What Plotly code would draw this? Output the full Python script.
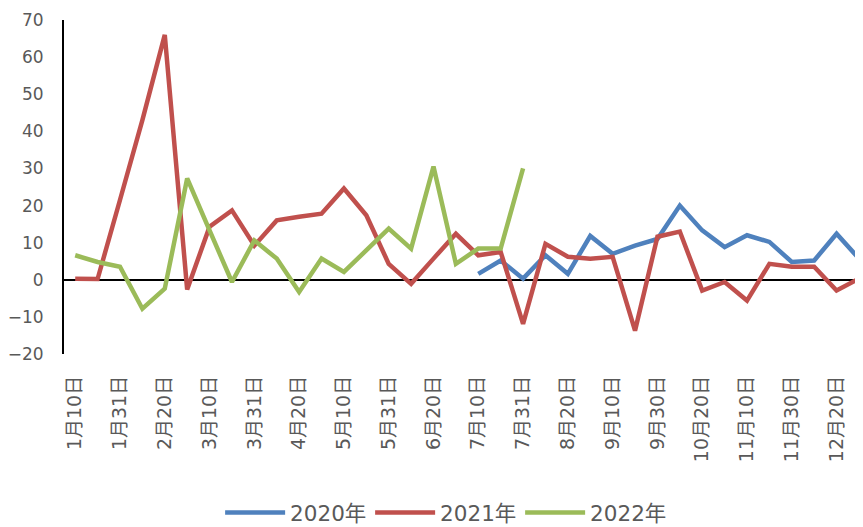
import plotly.graph_objects as go

categories = ["1月10日","1月20日","1月31日","2月10日","2月20日","2月28日","3月10日","3月20日","3月31日",
              "4月10日","4月20日","4月30日","5月10日","5月20日","5月31日","6月10日","6月20日","6月30日",
              "7月10日","7月20日","7月31日","8月10日","8月20日","8月31日","9月10日","9月20日","9月30日",
              "10月10日","10月20日","10月31日","11月10日","11月20日","11月30日","12月10日","12月20日","12月31日"]

y2020 = [None]*18 + [1.6, 5.2, 0.3, 6.6, 1.6, 11.8, 7.0, 9.2, 11.0, 20.0, 13.3, 8.8, 12.0, 10.2, 4.8, 5.2, 12.4, 5.7]
y2021 = [0.3, 0.2, 21.5, 43.0, 66.0, -2.6, 14.3, 18.7, 9.2, 16.0, 17.0, 17.8, 24.6, 17.4, 4.3, -1.1, 5.7, 12.4,
         6.6, 7.5, -11.9, 9.7, 6.2, 5.7, 6.2, -13.7, 11.6, 13.0, -2.9, -0.6, -5.6, 4.3, 3.5, 3.5, -2.9, 0.3]
y2022 = [6.6, 4.8, 3.5, -7.8, -2.4, 27.3, 13.3, -0.6, 10.6, 5.7, -3.3, 5.7, 2.1, 7.9, 13.8, 8.4, 30.5, 4.3,
         8.4, 8.4, 30.0] + [None]*15

tick_labels = categories[::2]

series = [("2020年", y2020, "#4F81BD"), ("2021年", y2021, "#C0504D"), ("2022年", y2022, "#9BBB59")]

fig = go.Figure()
for name, vals, color in series:
    fig.add_trace(go.Scatter(x=categories, y=vals, name=name, mode="lines",
                             line=dict(color=color, width=4.5), connectgaps=False))

font_family = "DejaVu Sans, Noto Sans CJK SC, sans-serif"
# the page body has an 8px default margin; the figure is offset by it
fig.update_layout(
    width=855, height=527,
    margin=dict(l=56, r=0, t=12, b=181),
    plot_bgcolor="white", paper_bgcolor="white",
    font=dict(family=font_family, size=17, color="#595959"),
    showlegend=True,
    legend=dict(orientation="h", x=0.477, xanchor="center", y=-0.475, yanchor="middle",
                font=dict(size=21.5, color="#595959"), itemwidth=60, entrywidth=75, tracegroupgap=0),
)
fig.update_xaxes(type="category", range=[-0.5, 35.18], tickmode="array", tickvals=tick_labels,
                 ticktext=tick_labels, tickangle=-90, showgrid=False, showline=False, zeroline=False,
                 ticks="", automargin=False, ticklabelstandoff=17, tickfont=dict(size=19, color="#595959"))
fig.update_yaxes(range=[-20, 70], dtick=10, showgrid=False, showline=True, linecolor="black", linewidth=1.8,
                 zeroline=True, zerolinecolor="black", zerolinewidth=1.5, ticks="", automargin=False,
                 ticklabelstandoff=15, tickfont=dict(size=17, color="#595959"))

fig.write_html("out.html")
